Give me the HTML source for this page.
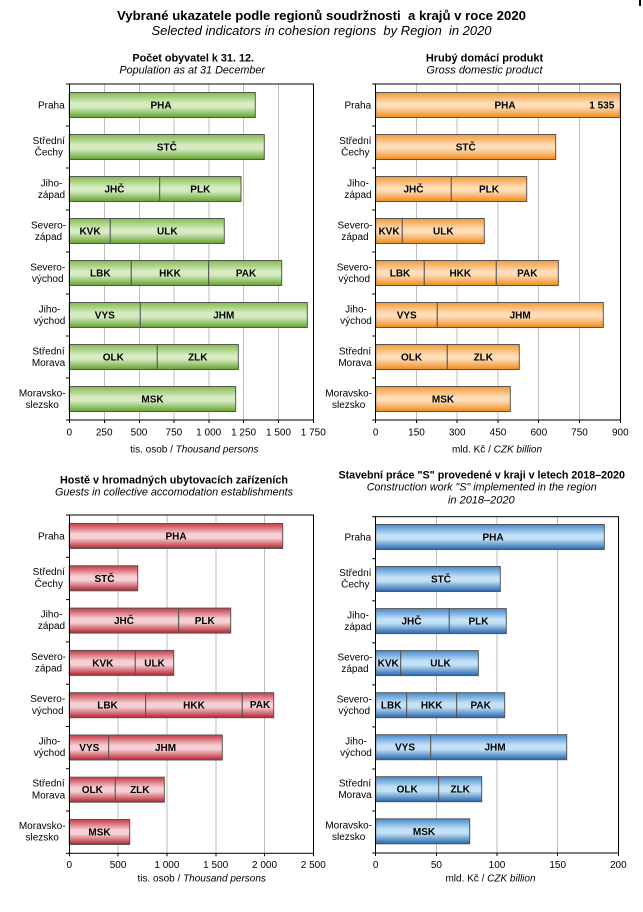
<!DOCTYPE html>
<html><head><meta charset="utf-8">
<style>
html,body{margin:0;padding:0;background:#fff;}
svg{display:block;}
text{font-family:"Liberation Sans",Arial,sans-serif;fill:#000;white-space:pre;}
.t{font-size:10px;}
.bl{font-size:10px;font-weight:bold;}
.cat{font-size:10px;fill:#111;}
.h1{font-size:13px;font-weight:bold;}
.h2{font-size:13px;font-style:italic;}
.ct{font-size:11px;font-weight:bold;}
.cs{font-size:11px;font-style:italic;}
.g{stroke:#bdbdbd;stroke-width:1;}
.f{fill:none;stroke:#000;stroke-width:1;}
.k{stroke:#000;stroke-width:1;}
.bg{fill:url(#gG);stroke:#555;stroke-width:1;}
.bo{fill:url(#gO);stroke:#555;stroke-width:1;}
.br{fill:url(#gR);stroke:#555;stroke-width:1;}
.bb{fill:url(#gB);stroke:#555;stroke-width:1;}
</style></head>
<body>
<svg width="643" height="912" viewBox="0 0 643 912" xmlns="http://www.w3.org/2000/svg">
<defs>
<linearGradient id="gG" x1="0" y1="0" x2="0" y2="1">
<stop offset="0" stop-color="#82bb4c"/><stop offset="0.42" stop-color="#d6ebc2"/><stop offset="0.58" stop-color="#d6ebc2"/><stop offset="1" stop-color="#64a230"/></linearGradient>
<linearGradient id="gO" x1="0" y1="0" x2="0" y2="1">
<stop offset="0" stop-color="#f59a36"/><stop offset="0.42" stop-color="#fddcb6"/><stop offset="0.58" stop-color="#fddcb6"/><stop offset="1" stop-color="#ef8a1c"/></linearGradient>
<linearGradient id="gR" x1="0" y1="0" x2="0" y2="1">
<stop offset="0" stop-color="#c63a45"/><stop offset="0.42" stop-color="#f5cfd4"/><stop offset="0.58" stop-color="#f5cfd4"/><stop offset="1" stop-color="#b5222d"/></linearGradient>
<linearGradient id="gB" x1="0" y1="0" x2="0" y2="1">
<stop offset="0" stop-color="#468ad0"/><stop offset="0.42" stop-color="#c3e1f6"/><stop offset="0.58" stop-color="#c3e1f6"/><stop offset="1" stop-color="#2766ad"/></linearGradient>
</defs>

<rect x="639" y="0" width="2" height="6" fill="#000"/>

<!-- Main titles -->
<text class="h1" x="321.5" y="20" text-anchor="middle" textLength="409" lengthAdjust="spacingAndGlyphs">Vybrané ukazatele podle regionů soudržnosti  a krajů v roce 2020</text>
<text class="h2" x="321.5" y="35" text-anchor="middle" textLength="340" lengthAdjust="spacingAndGlyphs">Selected indicators in cohesion regions  by Region  in 2020</text>

<!-- ================= CHART 1 ================= -->
<text class="ct" x="193.2" y="61.7" text-anchor="middle" textLength="121.7" lengthAdjust="spacingAndGlyphs">Počet obyvatel k 31. 12.</text>
<text class="cs" x="192.2" y="73.3" text-anchor="middle" textLength="145.7" lengthAdjust="spacingAndGlyphs">Population as at 31 December</text>
<g class="g">
<line x1="104.5" y1="84" x2="104.5" y2="420"/><line x1="139.5" y1="84" x2="139.5" y2="420"/><line x1="174" y1="84" x2="174" y2="420"/>
<line x1="209" y1="84" x2="209" y2="420"/><line x1="243.5" y1="84" x2="243.5" y2="420"/><line x1="278.5" y1="84" x2="278.5" y2="420"/>
</g>
<rect class="bg" x="69.3" y="92.5" width="186" height="25"/>
<rect class="bg" x="69.3" y="134.5" width="195" height="25"/>
<rect class="bg" x="69.3" y="176.5" width="90.4" height="25"/><rect class="bg" x="159.7" y="176.5" width="81.3" height="25"/>
<rect class="bg" x="69.3" y="218.5" width="41" height="25"/><rect class="bg" x="110.3" y="218.5" width="114" height="25"/>
<rect class="bg" x="69.3" y="260.5" width="62" height="25"/><rect class="bg" x="131.3" y="260.5" width="77.4" height="25"/><rect class="bg" x="208.7" y="260.5" width="73" height="25"/>
<rect class="bg" x="69.3" y="302.5" width="71" height="25"/><rect class="bg" x="140.3" y="302.5" width="167" height="25"/>
<rect class="bg" x="69.3" y="344.5" width="88" height="25"/><rect class="bg" x="157.3" y="344.5" width="81" height="25"/>
<rect class="bg" x="69.3" y="386.5" width="166.4" height="25"/>
<rect class="f" x="69.5" y="84" width="244" height="336"/>
<g class="k">
<line x1="66" y1="84" x2="69.5" y2="84"/><line x1="66" y1="126" x2="69.5" y2="126"/><line x1="66" y1="168" x2="69.5" y2="168"/>
<line x1="66" y1="210" x2="69.5" y2="210"/><line x1="66" y1="252" x2="69.5" y2="252"/><line x1="66" y1="294" x2="69.5" y2="294"/>
<line x1="66" y1="336" x2="69.5" y2="336"/><line x1="66" y1="378" x2="69.5" y2="378"/><line x1="66" y1="420" x2="69.5" y2="420"/>
<line x1="69.5" y1="420" x2="69.5" y2="423"/><line x1="104.5" y1="420" x2="104.5" y2="423"/><line x1="139.5" y1="420" x2="139.5" y2="423"/>
<line x1="174" y1="420" x2="174" y2="423"/><line x1="209" y1="420" x2="209" y2="423"/><line x1="243.5" y1="420" x2="243.5" y2="423"/>
<line x1="278.5" y1="420" x2="278.5" y2="423"/><line x1="313.5" y1="420" x2="313.5" y2="423"/>
</g>
<g class="bl" text-anchor="middle">
<text x="161" y="108.5">PHA</text>
<text x="166.8" y="150.5">STČ</text>
<text x="114.5" y="192.5">JHČ</text><text x="200.3" y="192.5">PLK</text>
<text x="90" y="234.5">KVK</text><text x="167.3" y="234.5">ULK</text>
<text x="100.3" y="276.5">LBK</text><text x="170" y="276.5">HKK</text><text x="246" y="276.5">PAK</text>
<text x="104.8" y="318.5">VYS</text><text x="223.8" y="318.5">JHM</text>
<text x="113.3" y="360.5">OLK</text><text x="197.8" y="360.5">ZLK</text>
<text x="152.5" y="402.5">MSK</text>
</g>
<g class="cat" text-anchor="middle">
<text x="64.7" y="108.5" text-anchor="end">Praha</text>
<text x="48.8" y="144">Střední</text><text x="48.8" y="155.7">Čechy</text>
<text x="51.5" y="186.3">Jiho-</text><text x="51.5" y="197.8">západ</text>
<text x="48.5" y="228.3">Severo-</text><text x="48.5" y="239.8">západ</text>
<text x="47.7" y="270.3">Severo-</text><text x="47.7" y="281.8">východ</text>
<text x="49.5" y="312.3">Jiho-</text><text x="49.5" y="323.8">východ</text>
<text x="48.5" y="354.3">Střední</text><text x="48.5" y="365.8">Morava</text>
<text x="42.2" y="396.3">Moravsko-</text><text x="42.2" y="407.8">slezsko</text>
</g>
<g class="t" text-anchor="middle">
<text x="69.3" y="435.5">0</text><text x="104.2" y="435.5">250</text><text x="139" y="435.5">500</text><text x="173.9" y="435.5">750</text>
<text x="208.7" y="435.5">1 000</text><text x="243.6" y="435.5">1 250</text><text x="278.5" y="435.5">1 500</text><text x="313.3" y="435.5">1 750</text>
</g>
<text class="t" x="194.3" y="452.3" text-anchor="middle">tis. osob / <tspan font-style="italic">Thousand persons</tspan></text>

<!-- ================= CHART 2 ================= -->
<text class="ct" x="484.5" y="61.7" text-anchor="middle">Hrubý domácí produkt</text>
<text class="cs" x="484.5" y="73.3" text-anchor="middle">Gross domestic product</text>
<g class="g">
<line x1="416.5" y1="84" x2="416.5" y2="420"/><line x1="457" y1="84" x2="457" y2="420"/><line x1="498" y1="84" x2="498" y2="420"/>
<line x1="538.5" y1="84" x2="538.5" y2="420"/><line x1="579.5" y1="84" x2="579.5" y2="420"/>
</g>
<rect class="bo" x="375.7" y="92.5" width="244.6" height="25"/>
<rect class="bo" x="375.7" y="134.5" width="180" height="25"/>
<rect class="bo" x="375.7" y="176.5" width="75.6" height="25"/><rect class="bo" x="451.3" y="176.5" width="75.4" height="25"/>
<rect class="bo" x="375.7" y="218.5" width="26.6" height="25"/><rect class="bo" x="402.3" y="218.5" width="82" height="25"/>
<rect class="bo" x="375.7" y="260.5" width="48.6" height="25"/><rect class="bo" x="424.3" y="260.5" width="72" height="25"/><rect class="bo" x="496.3" y="260.5" width="62" height="25"/>
<rect class="bo" x="375.7" y="302.5" width="61.6" height="25"/><rect class="bo" x="437.3" y="302.5" width="166" height="25"/>
<rect class="bo" x="375.7" y="344.5" width="71.6" height="25"/><rect class="bo" x="447.3" y="344.5" width="72" height="25"/>
<rect class="bo" x="375.7" y="386.5" width="134.6" height="25"/>
<rect class="f" x="375.5" y="84" width="245" height="336"/>
<g class="k">
<line x1="372.2" y1="84" x2="375.5" y2="84"/><line x1="372.2" y1="126" x2="375.5" y2="126"/><line x1="372.2" y1="168" x2="375.5" y2="168"/>
<line x1="372.2" y1="210" x2="375.5" y2="210"/><line x1="372.2" y1="252" x2="375.5" y2="252"/><line x1="372.2" y1="294" x2="375.5" y2="294"/>
<line x1="372.2" y1="336" x2="375.5" y2="336"/><line x1="372.2" y1="378" x2="375.5" y2="378"/><line x1="372.2" y1="420" x2="375.5" y2="420"/>
<line x1="375.5" y1="420" x2="375.5" y2="423"/><line x1="416.5" y1="420" x2="416.5" y2="423"/><line x1="457" y1="420" x2="457" y2="423"/>
<line x1="498" y1="420" x2="498" y2="423"/><line x1="538.5" y1="420" x2="538.5" y2="423"/><line x1="579.5" y1="420" x2="579.5" y2="423"/>
<line x1="620.5" y1="420" x2="620.5" y2="423"/>
</g>
<g class="bl" text-anchor="middle">
<text x="505" y="108.5">PHA</text><text x="614.3" y="108.5" text-anchor="end">1 535</text>
<text x="465.7" y="150.5">STČ</text>
<text x="413.5" y="192.5">JHČ</text><text x="489" y="192.5">PLK</text>
<text x="389" y="234.5">KVK</text><text x="443.3" y="234.5">ULK</text>
<text x="400" y="276.5">LBK</text><text x="460.3" y="276.5">HKK</text><text x="527.3" y="276.5">PAK</text>
<text x="406.7" y="318.5">VYS</text><text x="520.2" y="318.5">JHM</text>
<text x="411.5" y="360.5">OLK</text><text x="483.3" y="360.5">ZLK</text>
<text x="443" y="402.5">MSK</text>
</g>
<g class="cat" text-anchor="middle">
<text x="371.2" y="108.5" text-anchor="end">Praha</text>
<text x="355.3" y="144">Střední</text><text x="355.3" y="155.7">Čechy</text>
<text x="358" y="186.3">Jiho-</text><text x="358" y="197.8">západ</text>
<text x="355" y="228.3">Severo-</text><text x="355" y="239.8">západ</text>
<text x="354.2" y="270.3">Severo-</text><text x="354.2" y="281.8">východ</text>
<text x="356" y="312.3">Jiho-</text><text x="356" y="323.8">východ</text>
<text x="355" y="354.3">Střední</text><text x="355" y="365.8">Morava</text>
<text x="348.7" y="396.3">Moravsko-</text><text x="348.7" y="407.8">slezsko</text>
</g>
<g class="t" text-anchor="middle">
<text x="375.7" y="435.5">0</text><text x="416.5" y="435.5">150</text><text x="457.2" y="435.5">300</text><text x="498" y="435.5">450</text>
<text x="538.8" y="435.5">600</text><text x="579.5" y="435.5">750</text><text x="620.3" y="435.5">900</text>
</g>
<text class="t" x="497" y="452.3" text-anchor="middle">mld. Kč / <tspan font-style="italic">CZK billion</tspan></text>

<!-- ================= CHART 3 ================= -->
<text class="ct" x="174" y="483.3" text-anchor="middle" textLength="228" lengthAdjust="spacingAndGlyphs">Hostě v hromadných ubytovacích zařízeních</text>
<text class="cs" x="174" y="495.7" text-anchor="middle" textLength="238" lengthAdjust="spacingAndGlyphs">Guests in collective accomodation establishments</text>
<g class="g">
<line x1="118" y1="515" x2="118" y2="853.3"/><line x1="167" y1="515" x2="167" y2="853.3"/>
<line x1="216" y1="515" x2="216" y2="853.3"/><line x1="264.5" y1="515" x2="264.5" y2="853.3"/>
</g>
<rect class="br" x="69.3" y="523.5" width="213.4" height="25"/>
<rect class="br" x="69.3" y="565.8" width="68.4" height="25"/>
<rect class="br" x="69.3" y="608.1" width="109.4" height="25"/><rect class="br" x="178.7" y="608.1" width="52" height="25"/>
<rect class="br" x="69.3" y="650.4" width="66" height="25"/><rect class="br" x="135.3" y="650.4" width="38.4" height="25"/>
<rect class="br" x="69.3" y="692.7" width="76.4" height="25"/><rect class="br" x="145.7" y="692.7" width="96.6" height="25"/><rect class="br" x="242.3" y="692.7" width="31.4" height="25"/>
<rect class="br" x="69.3" y="735" width="39.4" height="25"/><rect class="br" x="108.7" y="735" width="113.6" height="25"/>
<rect class="br" x="69.3" y="777.2" width="46" height="25"/><rect class="br" x="115.3" y="777.2" width="49" height="25"/>
<rect class="br" x="69.3" y="819.5" width="60.4" height="25"/>
<rect class="f" x="69.5" y="515" width="244" height="338.3"/>
<g class="k">
<line x1="66" y1="515" x2="69.5" y2="515"/><line x1="66" y1="557.3" x2="69.5" y2="557.3"/><line x1="66" y1="599.6" x2="69.5" y2="599.6"/>
<line x1="66" y1="641.9" x2="69.5" y2="641.9"/><line x1="66" y1="684.2" x2="69.5" y2="684.2"/><line x1="66" y1="726.5" x2="69.5" y2="726.5"/>
<line x1="66" y1="768.7" x2="69.5" y2="768.7"/><line x1="66" y1="811" x2="69.5" y2="811"/><line x1="66" y1="853.3" x2="69.5" y2="853.3"/>
<line x1="69.5" y1="853.3" x2="69.5" y2="856.3"/><line x1="118" y1="853.3" x2="118" y2="856.3"/><line x1="167" y1="853.3" x2="167" y2="856.3"/>
<line x1="216" y1="853.3" x2="216" y2="856.3"/><line x1="264.5" y1="853.3" x2="264.5" y2="856.3"/><line x1="313.5" y1="853.3" x2="313.5" y2="856.3"/>
</g>
<g class="bl" text-anchor="middle">
<text x="176" y="539.5">PHA</text>
<text x="104.5" y="581.8">STČ</text>
<text x="124" y="624.1">JHČ</text><text x="204.7" y="624.1">PLK</text>
<text x="102.8" y="666.4">KVK</text><text x="154.5" y="666.4">ULK</text>
<text x="107.5" y="708.7">LBK</text><text x="194" y="708.7">HKK</text><text x="260" y="708.2">PAK</text>
<text x="89.3" y="751">VYS</text><text x="165.5" y="751">JHM</text>
<text x="92.3" y="793.2">OLK</text><text x="139.8" y="793.2">ZLK</text>
<text x="99.5" y="835.5">MSK</text>
</g>
<g class="cat" text-anchor="middle">
<text x="64.7" y="539.5" text-anchor="end">Praha</text>
<text x="48.8" y="575">Střední</text><text x="48.8" y="586.8">Čechy</text>
<text x="51.5" y="617.6">Jiho-</text><text x="51.5" y="629.2">západ</text>
<text x="48.5" y="659.9">Severo-</text><text x="48.5" y="671.5">západ</text>
<text x="47.7" y="702.2">Severo-</text><text x="47.7" y="713.8">východ</text>
<text x="49.5" y="744.5">Jiho-</text><text x="49.5" y="756.1">východ</text>
<text x="48.5" y="786.7">Střední</text><text x="48.5" y="798.3">Morava</text>
<text x="42.2" y="829">Moravsko-</text><text x="42.2" y="840.6">slezsko</text>
</g>
<g class="t" text-anchor="middle">
<text x="69.3" y="868">0</text><text x="118.1" y="868">500</text><text x="166.9" y="868">1 000</text>
<text x="215.7" y="868">1 500</text><text x="264.5" y="868">2 000</text><text x="313.3" y="868">2 500</text>
</g>
<text class="t" x="201.7" y="881.7" text-anchor="middle">tis. osob / <tspan font-style="italic">Thousand persons</tspan></text>

<!-- ================= CHART 4 ================= -->
<text class="ct" x="481.7" y="478.3" text-anchor="middle" textLength="286.5" lengthAdjust="spacingAndGlyphs">Stavební práce "S" provedené v kraji v letech 2018–2020</text>
<text class="cs" x="481.7" y="490.7" text-anchor="middle" textLength="230" lengthAdjust="spacingAndGlyphs">Construction work "S" implemented in the region</text>
<text class="cs" x="481.3" y="503.3" text-anchor="middle">in 2018–2020</text>
<g class="g">
<line x1="436.5" y1="516.7" x2="436.5" y2="853"/><line x1="497" y1="516.7" x2="497" y2="853"/><line x1="557.5" y1="516.7" x2="557.5" y2="853"/>
</g>
<rect class="bb" x="375.7" y="524.5" width="228.6" height="25"/>
<rect class="bb" x="375.7" y="566.5" width="124.6" height="25"/>
<rect class="bb" x="375.7" y="608.6" width="73.6" height="25"/><rect class="bb" x="449.3" y="608.6" width="57" height="25"/>
<rect class="bb" x="375.7" y="650.6" width="25" height="25"/><rect class="bb" x="400.7" y="650.6" width="77.6" height="25"/>
<rect class="bb" x="375.7" y="692.7" width="31" height="25"/><rect class="bb" x="406.7" y="692.7" width="50" height="25"/><rect class="bb" x="456.7" y="692.7" width="48" height="25"/>
<rect class="bb" x="375.7" y="734.7" width="55" height="25"/><rect class="bb" x="430.7" y="734.7" width="136" height="25"/>
<rect class="bb" x="375.7" y="776.7" width="63" height="25"/><rect class="bb" x="438.7" y="776.7" width="43" height="25"/>
<rect class="bb" x="375.7" y="818.8" width="94" height="25"/>
<rect class="f" x="375.5" y="516.7" width="243" height="336.3"/>
<g class="k">
<line x1="372.2" y1="516.7" x2="375.5" y2="516.7"/><line x1="372.2" y1="558.7" x2="375.5" y2="558.7"/><line x1="372.2" y1="600.8" x2="375.5" y2="600.8"/>
<line x1="372.2" y1="642.8" x2="375.5" y2="642.8"/><line x1="372.2" y1="684.9" x2="375.5" y2="684.9"/><line x1="372.2" y1="726.9" x2="375.5" y2="726.9"/>
<line x1="372.2" y1="769" x2="375.5" y2="769"/><line x1="372.2" y1="811" x2="375.5" y2="811"/><line x1="372.2" y1="853" x2="375.5" y2="853"/>
<line x1="375.5" y1="853" x2="375.5" y2="856"/><line x1="436.5" y1="853" x2="436.5" y2="856"/><line x1="497" y1="853" x2="497" y2="856"/>
<line x1="557.5" y1="853" x2="557.5" y2="856"/><line x1="618.5" y1="853" x2="618.5" y2="856"/>
</g>
<g class="bl" text-anchor="middle">
<text x="493" y="540.5">PHA</text>
<text x="441" y="582.5">STČ</text>
<text x="411.5" y="624.6">JHČ</text><text x="478.5" y="624.6">PLK</text>
<text x="388.2" y="666.6">KVK</text><text x="440.5" y="666.6">ULK</text>
<text x="391.2" y="708.7">LBK</text><text x="431.7" y="708.7">HKK</text><text x="480.7" y="708.7">PAK</text>
<text x="405" y="750.7">VYS</text><text x="495" y="750.7">JHM</text>
<text x="407.2" y="792.7">OLK</text><text x="460.2" y="792.7">ZLK</text>
<text x="424" y="834.8">MSK</text>
</g>
<g class="cat" text-anchor="middle">
<text x="371.2" y="540.5" text-anchor="end">Praha</text>
<text x="355.3" y="576">Střední</text><text x="355.3" y="587.7">Čechy</text>
<text x="358" y="618.4">Jiho-</text><text x="358" y="629.9">západ</text>
<text x="355" y="660.4">Severo-</text><text x="355" y="671.9">západ</text>
<text x="354.2" y="702.5">Severo-</text><text x="354.2" y="714">východ</text>
<text x="356" y="744.5">Jiho-</text><text x="356" y="756">východ</text>
<text x="355" y="786.5">Střední</text><text x="355" y="798">Morava</text>
<text x="348.7" y="828.6">Moravsko-</text><text x="348.7" y="840.1">slezsko</text>
</g>
<g class="t" text-anchor="middle">
<text x="375.7" y="868">0</text><text x="436.4" y="868">50</text><text x="497" y="868">100</text>
<text x="557.7" y="868">150</text><text x="618.3" y="868">200</text>
</g>
<text class="t" x="490.5" y="881.7" text-anchor="middle">mld. Kč / <tspan font-style="italic">CZK billion</tspan></text>
</svg>
</body></html>
